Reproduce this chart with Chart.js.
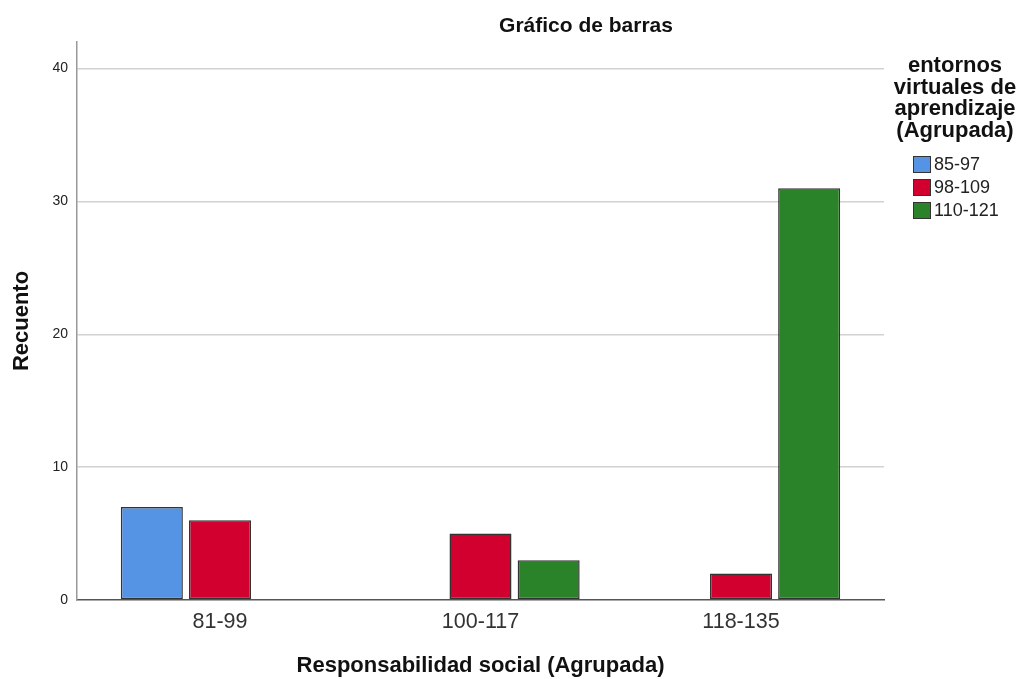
<!DOCTYPE html>
<html>
<head>
<meta charset="utf-8">
<script src="https://cdn.jsdelivr.net/npm/chart.js@4/dist/chart.umd.min.js"></script>
<style>
  html, body { margin: 0; padding: 0; background: #fff; }
  #wrap { width: 1021px; height: 679px; }
</style>
</head>
<body>
<div id="wrap"><canvas id="barChart" width="1021" height="679"></canvas></div>
<script>
// datos
var categorias = ['81-99', '100-117', '118-135'];
var grupos = ['85-97', '98-109', '110-121'];
var serie8597 = [7, null, null];
var serie98109 = [6, 5, 2];
var serie110121 = [null, 3, 31];
var colores = ['rgb(85, 148, 228)', 'rgb(210, 0, 46)', 'rgb(42, 130, 41)'];
var tituloLeyenda = ['entornos', 'virtuales de', 'aprendizaje', '(Agrupada)'];

var fuente = 'Arial, "Liberation Sans", sans-serif';

// eje x lineal para dejar margen a los lados como SPSS
function puntos(serie) {
    return serie.map(function (v, i) { return { x: i, y: v }; });
}

// titulo y leyenda dibujados a mano
var extras = {
    id: 'extras',
    afterDraw: function (chart) {
        var c = chart.ctx;
        c.save();
        c.fillStyle = '#111';
        c.textAlign = 'center';
        c.textBaseline = 'middle';
        c.font = 'bold 21px ' + fuente;
        c.fillText('Gráfico de barras', 586, 26);

        c.font = 'bold 22px ' + fuente;
        tituloLeyenda.forEach(function (t, i) {
            c.fillText(t, 955, 66 + i * 21.5);
        });

        c.font = '18px ' + fuente;
        c.textAlign = 'left';
        chart.data.datasets.forEach(function (ds, i) {
            var y = 156 + i * 23;
            c.fillStyle = ds.backgroundColor;
            c.fillRect(913, y, 17, 16);
            c.strokeStyle = '#333';
            c.lineWidth = 1;
            c.strokeRect(913.5, y + 0.5, 17, 16);
            c.fillStyle = '#222';
            c.fillText(ds.label, 934, y + 9);
        });
        c.restore();
    }
};

var ctx = document.getElementById('barChart').getContext('2d');
var myChart = new Chart(ctx, {
    type: 'bar',
    data: {
        datasets: [{
            label: grupos[0],
            data: puntos(serie8597),
            backgroundColor: colores[0]
        }, {
            label: grupos[1],
            data: puntos(serie98109),
            backgroundColor: colores[1]
        }, {
            label: grupos[2],
            data: puntos(serie110121),
            backgroundColor: colores[2]
        }]
    },
    options: {
        responsive: false,
        animation: false,
        layout: { padding: { left: 0, top: 42, right: 137, bottom: 0 } },
        datasets: {
            bar: {
                borderColor: '#333',
                borderWidth: 1.5,
                borderSkipped: false,
                categoryPercentage: 0.785,
                barPercentage: 0.91
            }
        },
        plugins: {
            legend: { display: false },
            title: { display: false },
            tooltip: { enabled: false }
        },
        scales: {
            x: {
                type: 'linear',
                min: -0.549,
                max: 2.549,
                offset: false,
                grid: { display: false, drawTicks: false },
                border: { color: '#555', width: 1.5 },
                ticks: {
                    color: '#333',
                    padding: 9,
                    font: { family: fuente, size: 21.5 },
                    callback: function (v) { return categorias[v]; }
                },
                afterBuildTicks: function (s) {
                    s.ticks = categorias.map(function (c, i) { return { value: i }; });
                },
                title: {
                    display: true,
                    text: 'Responsabilidad social (Agrupada)',
                    color: '#111',
                    font: { family: fuente, size: 22, weight: 'bold' },
                    padding: { top: 0, bottom: 0 }
                },
                afterFit: function (s) { s.height = 79; }
            },
            y: {
                min: 0,
                max: 42,
                ticks: { stepSize: 10, color: '#222', padding: 9, font: { family: fuente, size: 14 } },
                grid: {
                    drawTicks: false,
                    color: function (c) { return c.tick.value === 0 ? 'rgba(0,0,0,0)' : '#d2d2d2'; },
                    lineWidth: 1.5
                },
                border: { color: '#999', width: 1.5 },
                title: {
                    display: true,
                    text: 'Recuento',
                    color: '#111',
                    font: { family: fuente, size: 22, weight: 'bold' },
                    padding: { top: 9, bottom: 9 }
                },
                afterBuildTicks: function (s) {
                    s.ticks = s.ticks.filter(function (t) { return t.value % 10 === 0; });
                },
                afterFit: function (s) { s.width = 77; }
            }
        }
    },
    plugins: [extras]
});
</script>
</body>
</html>
